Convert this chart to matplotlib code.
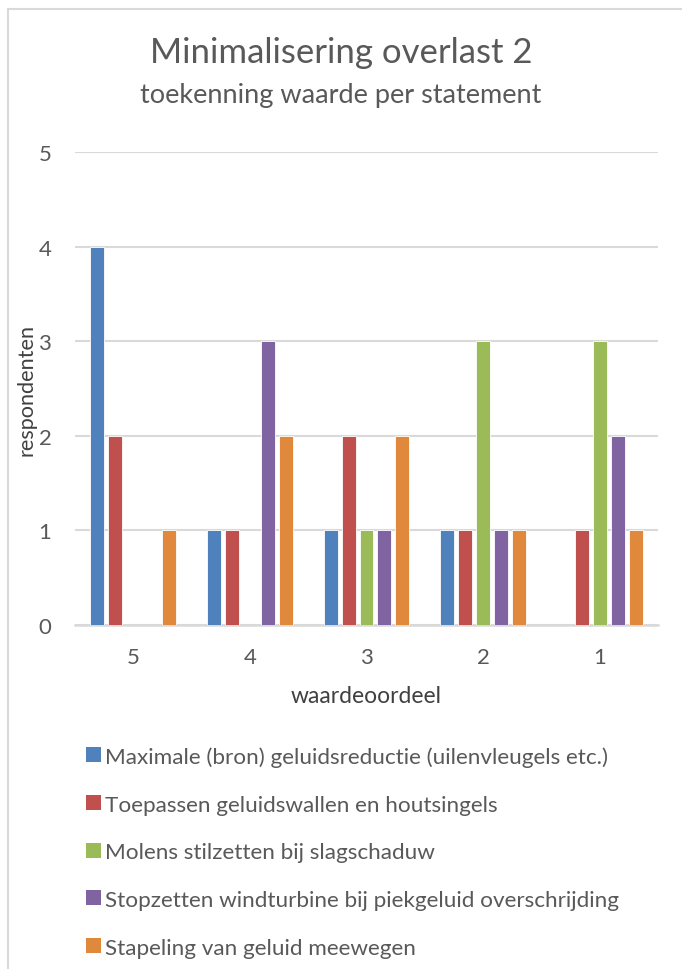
import numpy as np
import matplotlib
matplotlib.use("Agg")
from matplotlib import pyplot as plt
from matplotlib.patches import Rectangle

plt.rcParams['font.family'] = ['Lato', 'DejaVu Sans']

# -- DATA --
categories = ["5", "4", "3", "2", "1"]
series_names = [
    "Maximale (bron) geluidsreductie (uilenvleugels etc.)",
    "Toepassen geluidswallen en houtsingels",
    "Molens stilzetten bij slagschaduw",
    "Stopzetten windturbine bij piekgeluid overschrijding",
    "Stapeling van geluid meewegen",
]
maximale = [4, 1, 1, 1, 0]
toepassen = [2, 1, 2, 1, 1]
molens = [0, 0, 1, 3, 3]
stopzetten = [0, 3, 1, 1, 2]
stapeling = [1, 2, 2, 1, 1]
series_values = [maximale, toepassen, molens, stopzetten, stapeling]

colors = ["#4F81BD", "#C0504D", "#9BBB59", "#8064A2", "#E0883B"]
TXT = "#595959"
DARK = "#404040"
GRID = "#D9D9D9"

# -- FIGURE --
fig = plt.figure(figsize=(6.82, 9.7), dpi=100)
W, H = 682, 970

# outer chart border (light gray)
fig.patches.append(Rectangle((8 / W, -0.01), 1.0, 1 - 10 / H + 0.01,
                             transform=fig.transFigure, fill=False,
                             edgecolor=GRID, linewidth=1.5))

ax = fig.add_axes([75 / W, 1 - 626 / H, (658 - 75) / W, (626 - 153) / H])

x = np.arange(len(categories))
bw = 0.12
step = 0.154
for i, (vals, c) in enumerate(zip(series_values, colors)):
    off = (i - 2) * step
    ax.bar(x + off, vals, width=bw, color=c, edgecolor="white",
           linewidth=0.6, zorder=3)

ax.set_xlim(-0.5, len(categories) - 0.5)
ax.set_ylim(0, 5)
ax.set_yticks(range(6))
ax.set_xticks(x)
ax.set_xticklabels(categories)
ax.yaxis.grid(True, color=GRID, linewidth=1.5, zorder=0)
ax.set_axisbelow(True)
for s in ["top", "right", "left"]:
    ax.spines[s].set_visible(False)
ax.spines["bottom"].set_color(GRID)
ax.spines["bottom"].set_linewidth(1.8)
ax.tick_params(axis="both", length=0, colors=TXT, labelsize=16)
ax.tick_params(axis="y", pad=17)
ax.tick_params(axis="x", pad=16)

ax.set_ylabel("respondenten", fontsize=15.6, color=DARK, labelpad=2)
ax.yaxis.set_label_coords(-39 / (658 - 75), 0.5)
ax.set_xlabel("waardeoordeel", fontsize=16.5, color=DARK)
ax.xaxis.set_label_coords(0.5, -(686 - 626) / (626 - 153))

fig.text(0.5, 1 - 53 / H, "Minimalisering overlast 2", ha="center",
         va="center", fontsize=25, color=TXT)
fig.text(0.5, 1 - 96 / H, "toekenning waarde per statement", ha="center",
         va="center", fontsize=19.5, color=TXT)

handles = [Rectangle((0, 0), 1, 1, facecolor=c, edgecolor="none")
           for c in colors]
leg = fig.legend(handles, series_names, loc="upper left",
                 bbox_to_anchor=(66 / W, 1 - 727 / H),
                 frameon=False, fontsize=16.2, labelcolor=TXT,
                 handlelength=0.65, handleheight=0.65, handletextpad=0.2,
                 labelspacing=1.23)

fig.savefig("out.png", dpi=100)
